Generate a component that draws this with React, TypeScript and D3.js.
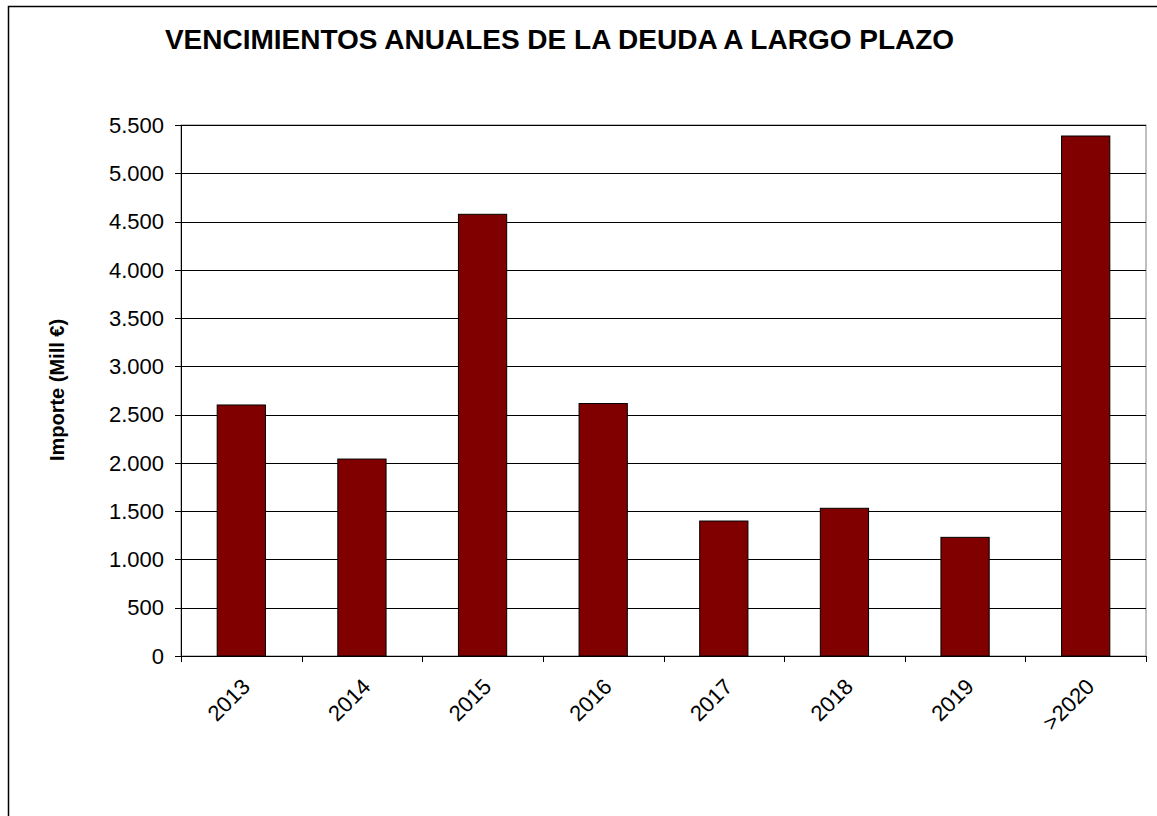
import React from "react";
import * as d3 from "d3";

const categories = ["2013", "2014", "2015", "2016", "2017", "2018", "2019", ">2020"];
const values = [2600, 2040, 4575, 2615, 1398, 1530, 1229, 5386];
const yTicks = [0, 500, 1000, 1500, 2000, 2500, 3000, 3500, 4000, 4500, 5000, 5500];
const title = "VENCIMIENTOS ANUALES DE LA DEUDA A LARGO PLAZO";
const yTitle = "Importe (Mill €)";

const W = 1157;
const H = 816;
const plot = { left: 181, right: 1146, top: 125, bottom: 656 };
const font = "Arial, 'Liberation Sans', sans-serif";

export default function App() {
  const x = d3
    .scaleBand<string>()
    .domain(categories)
    .range([plot.left, plot.right])
    .paddingInner(0.6)
    .paddingOuter(0.3);
  const y = d3.scaleLinear().domain([0, 5500]).range([plot.bottom, plot.top]);
  const step = x.step();
  const fmt = (v: number) => d3.format(",")(v).replace(/,/g, ".");

  return (
    <svg
      width={W}
      height={H}
      style={{ position: "absolute", left: 0, top: 0, display: "block" }}
      fontFamily={font}
    >
      <rect x={0} y={0} width={W} height={H} fill="#fff" />
      <rect x={8.5} y={6.5} width={1300} height={1000} fill="#fff" stroke="#000" strokeWidth={1.5} />

      <text x={559.5} y={49} textAnchor="middle" fontWeight="bold" fontSize={28} fill="#000">
        {title}
      </text>

      {/* plot border */}
      <rect
        x={plot.left}
        y={plot.top}
        width={plot.right - plot.left}
        height={plot.bottom - plot.top}
        fill="#fff"
        stroke="#808080"
        strokeWidth={1}
      />

      {/* grid lines */}
      {yTicks.map((t) => (
        <line
          key={"g" + t}
          x1={plot.left}
          x2={plot.right}
          y1={Math.round(y(t)) + 0.5}
          y2={Math.round(y(t)) + 0.5}
          stroke="#000"
          strokeWidth={1}
        />
      ))}

      {/* bars */}
      {categories.map((c, i) => (
        <rect
          key={c}
          x={x(c)!}
          y={y(values[i])}
          width={x.bandwidth()}
          height={y(0) - y(values[i])}
          fill="#800000"
          stroke="#000"
          strokeWidth={1}
        />
      ))}

      {/* y axis */}
      <line x1={plot.left + 0.5} x2={plot.left + 0.5} y1={plot.top} y2={plot.bottom} stroke="#000" strokeWidth={1} />
      {yTicks.map((t) => (
        <g key={"yt" + t}>
          <line
            x1={plot.left - 6}
            x2={plot.left}
            y1={Math.round(y(t)) + 0.5}
            y2={Math.round(y(t)) + 0.5}
            stroke="#000"
          />
          <text x={164} y={y(t)} dy="0.35em" textAnchor="end" fontSize={22} fill="#000">
            {fmt(t)}
          </text>
        </g>
      ))}

      {/* x axis */}
      <line x1={plot.left} x2={plot.right} y1={plot.bottom + 0.5} y2={plot.bottom + 0.5} stroke="#000" strokeWidth={1} />
      {d3.range(categories.length + 1).map((i) => {
        const xx = Math.round(plot.left + i * step) + 0.5;
        return <line key={"xt" + i} x1={xx} x2={xx} y1={plot.bottom} y2={plot.bottom + 6} stroke="#000" />;
      })}
      {categories.map((c) => {
        const cx = x(c)! + x.bandwidth() / 2 + 10;
        const cy = plot.bottom + 32;
        return (
          <text
            key={"xl" + c}
            x={cx}
            y={cy}
            textAnchor="end"
            fontSize={22}
            fill="#000"
            transform={`rotate(-45, ${cx}, ${cy})`}
          >
            {c}
          </text>
        );
      })}

      {/* y title */}
      <text
        x={64}
        y={390}
        textAnchor="middle"
        fontWeight="bold"
        fontSize={20}
        fill="#000"
        transform={`rotate(-90, 64, 390)`}
      >
        {yTitle}
      </text>
    </svg>
  );
}
